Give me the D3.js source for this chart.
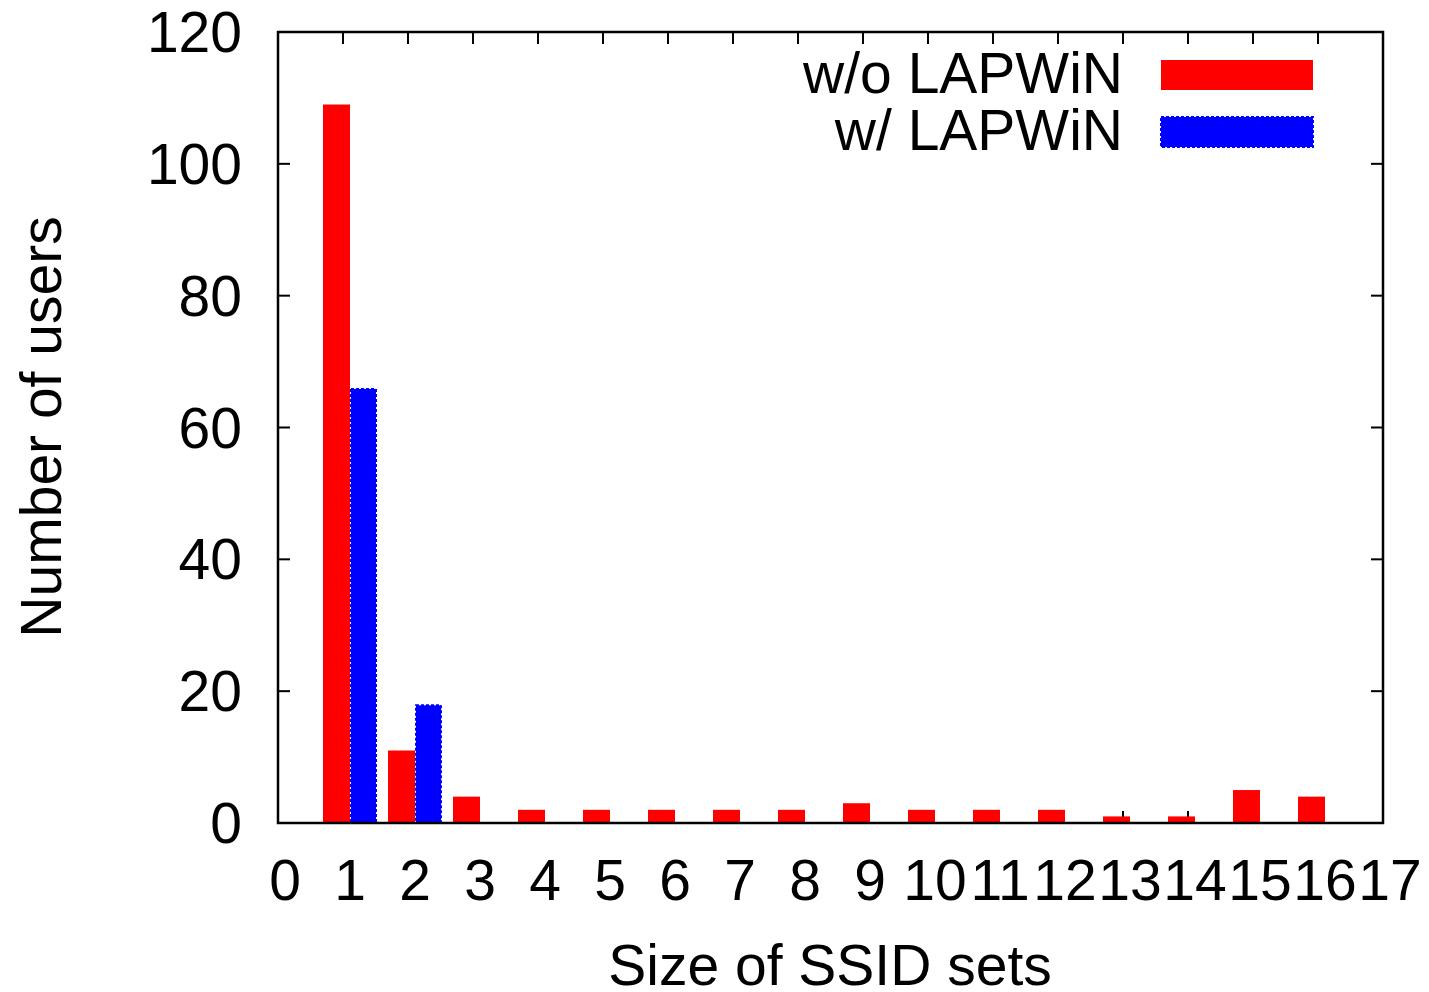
<!DOCTYPE html>
<html>
<head>
<meta charset="utf-8">
<script src="https://cdn.jsdelivr.net/npm/d3@7/dist/d3.min.js"></script>
<style>
  body { margin: 0; background: #fff; }
  text { font-family: "Liberation Sans", Arial, sans-serif; fill: #000; }
</style>
</head>
<body>
<svg id="chart" width="1429" height="992"></svg>
<script>
// SSID set size histogram, with and without LAPWiN
const setSizes = [1, 2, 3, 4, 5, 6, 7, 8, 9, 10, 11, 12, 13, 14, 15, 16];
const withoutLapwin = [109, 11, 4, 2, 2, 2, 2, 2, 3, 2, 2, 2, 1, 1, 5, 4];
const withLapwin = [66, 18, 0, 0, 0, 0, 0, 0, 0, 0, 0, 0, 0, 0, 0, 0];
const xTicks = d3.range(0, 18);
const yTicks = [0, 20, 40, 60, 80, 100, 120];
const seriesNames = ['w/o LAPWiN', 'w/ LAPWiN'];

const plotLeft = 278, plotRight = 1383, plotTop = 32, plotBottom = 823;
const fontSize = 57;
const svg = d3.select('#chart');

const x = d3.scaleLinear().domain([0, 17]).range([plotLeft, plotRight]);
const y = d3.scaleLinear().domain([0, 120]).range([plotBottom, plotTop]);
const barW = 27;
const shift = 7; // gnuplot puts clusters and labels a bit right of the tick

// inward ticks on all four sides
const ticks = svg.append('g').attr('stroke', '#000').attr('stroke-width', 2);
xTicks.forEach(t => {
  ticks.append('line').attr('x1', x(t)).attr('x2', x(t)).attr('y1', plotBottom).attr('y2', plotBottom - 12);
  ticks.append('line').attr('x1', x(t)).attr('x2', x(t)).attr('y1', plotTop).attr('y2', plotTop + 12);
});
yTicks.forEach(t => {
  ticks.append('line').attr('x1', plotLeft).attr('x2', plotLeft + 12).attr('y1', y(t)).attr('y2', y(t));
  ticks.append('line').attr('x1', plotRight).attr('x2', plotRight - 12).attr('y1', y(t)).attr('y2', y(t));
});

// bars
const bars = svg.append('g');
setSizes.forEach((s, i) => {
  const cx = x(s) + shift;
  bars.append('rect')
    .attr('x', cx - barW).attr('width', barW)
    .attr('y', y(withoutLapwin[i])).attr('height', y(0) - y(withoutLapwin[i]))
    .attr('fill', '#ff0000');
  if (withLapwin[i] > 0) {
    bars.append('rect')
      .attr('x', cx + 1).attr('width', barW - 2)
      .attr('y', y(withLapwin[i]) + 1).attr('height', y(0) - y(withLapwin[i]) - 1)
      .attr('fill', '#0000ff')
      .attr('stroke', '#0000ff').attr('stroke-width', 2).attr('stroke-dasharray', '3 2');
  }
});

// frame
svg.append('rect')
  .attr('x', plotLeft).attr('y', plotTop).attr('width', plotRight - plotLeft).attr('height', plotBottom - plotTop)
  .attr('fill', 'none').attr('stroke', '#000').attr('stroke-width', 2.5);

// tick labels
svg.append('g').selectAll('text').data(yTicks).join('text')
  .attr('x', 242).attr('y', d => y(d) + 20)
  .attr('text-anchor', 'end').attr('font-size', fontSize)
  .text(d => d);

svg.append('g').selectAll('text').data(xTicks).join('text')
  .attr('x', d => x(d) + shift).attr('y', 900)
  .attr('text-anchor', 'middle').attr('font-size', fontSize)
  .text(d => d);

// axis titles
svg.append('text')
  .attr('transform', 'translate(61,427) rotate(-90)')
  .attr('text-anchor', 'middle').attr('font-size', fontSize)
  .text('Number of users');

svg.append('text')
  .attr('x', 830).attr('y', 985)
  .attr('text-anchor', 'middle').attr('font-size', fontSize)
  .text('Size of SSID sets');

// legend
const legend = svg.append('g');
seriesNames.forEach((name, i) => {
  const ly = 93 + i * 57;
  legend.append('text')
    .attr('x', 1123).attr('y', ly)
    .attr('text-anchor', 'end').attr('font-size', fontSize)
    .text(name);
  const sw = legend.append('rect')
    .attr('x', 1161).attr('y', ly - 33).attr('width', 152).attr('height', 30);
  if (i === 0) {
    sw.attr('fill', '#ff0000');
  } else {
    sw.attr('fill', '#0000ff').attr('stroke', '#0000ff')
      .attr('stroke-width', 2).attr('stroke-dasharray', '3 2');
  }
});
</script>
</body>
</html>
